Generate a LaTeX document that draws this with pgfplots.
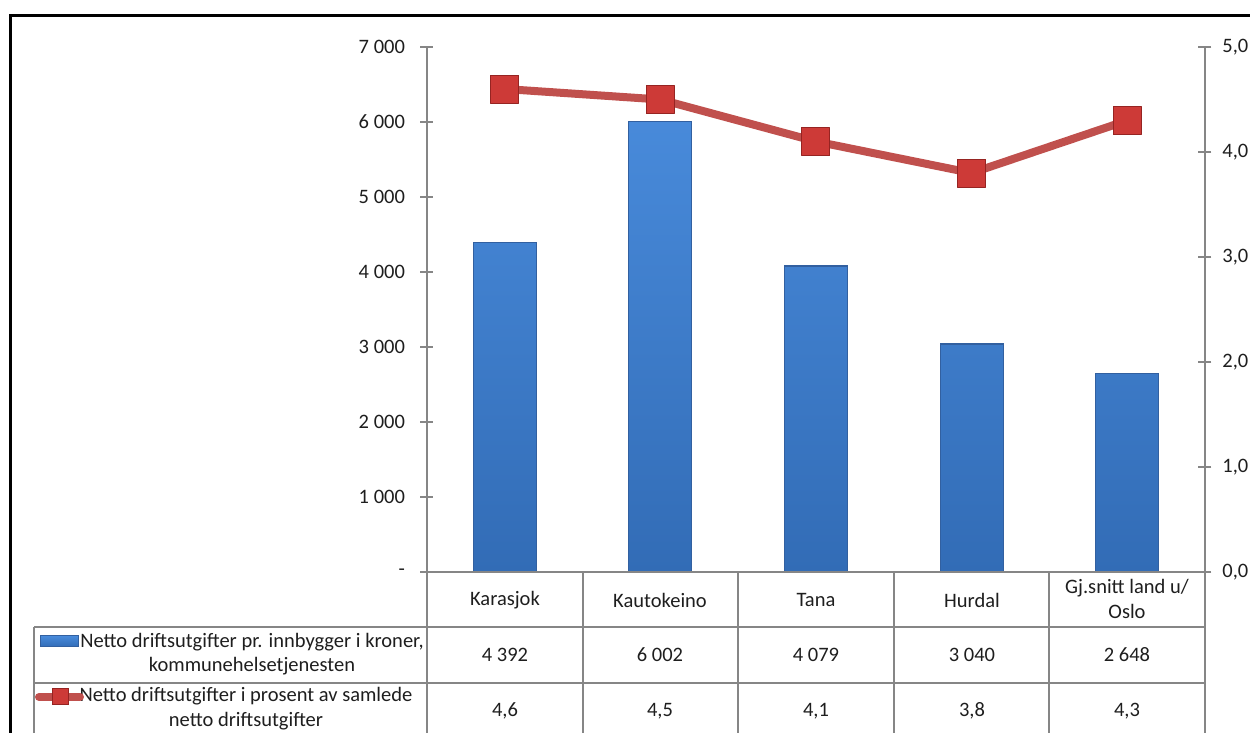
\documentclass[border=0pt]{standalone}
\usepackage{fontspec}
\setmainfont{Carlito}
\usepackage{pgfplots}
\pgfplotsset{compat=1.18}

\definecolor{bartop}{RGB}{72,138,218}
\definecolor{barbot}{RGB}{50,108,182}
\definecolor{baredge}{RGB}{50,96,160}
\definecolor{linered}{RGB}{192,80,77}
\definecolor{markred}{RGB}{205,58,55}
\definecolor{markedge}{RGB}{150,36,34}
\definecolor{gridgray}{RGB}{134,134,134}
\definecolor{txt}{RGB}{30,30,30}

\newcommand{\tf}{\fontsize{12.3}{14.8}\selectfont}

\begin{document}
\begin{tikzpicture}[x=0.6pt,y=0.6pt, font=\tf, text=txt]
\pgfplotsset{
  common/.style={
    at={(256.2pt,96.6pt)}, anchor=south west,
    scale only axis, width=466.8pt, height=315pt,
    xmin=-0.5, xmax=4.5,
    axis x line=none,
    axis line style={-, draw=gridgray, line width=1.1pt},
    tick align=center, major tick length=7.8pt,
    tick style={draw=gridgray, line width=1.1pt},
    every tick label/.append style={font=\tf, text=txt},
    clip=false,
  }
}
\begin{axis}[common,
  ymin=0, ymax=7000,
  axis y line*=left,
  ytick={0,1000,2000,3000,4000,5000,6000,7000},
  yticklabels={-, 1 000, 2 000, 3 000, 4 000, 5 000, 6 000, 7 000},
  yticklabel style={anchor=east, xshift=-5.8pt},
]
\addplot[ybar, bar width=37.8pt, top color=bartop, bottom color=barbot, draw=baredge, line width=0.7pt]
  coordinates {(0,4392) (1,6002) (2,4079) (3,3040) (4,2648)};
\end{axis}
\begin{axis}[common,
  ymin=0, ymax=5,
  axis y line*=right,
  ytick={0,1,2,3,4,5},
  yticklabels={{0,0},{1,0},{2,0},{3,0},{4,0},{5,0}},
  yticklabel style={anchor=west, xshift=3pt},
]
\addplot[linered, line width=4.8pt, line join=round,
  mark=square*, mark size=8.4pt,
  mark options={fill=markred, draw=markedge, line width=0.6pt}]
  coordinates {(0,4.6) (1,4.5) (2,4.1) (3,3.8) (4,4.3)};
\end{axis}

% data table
\begin{scope}[draw=gridgray, line width=1.1pt]
\draw (427,161) -- (1205,161);
\draw (34,106) -- (1205,106);
\draw (34,50) -- (1205,50);
\draw (34,106) -- (34,-5);
\foreach \xx in {427,583,738,894,1049,1205} { \draw (\xx,161) -- (\xx,-5); }
\end{scope}

\node at (505,133) {Karasjok};
\node at (660,133) {Kautokeino};
\node at (816,133) {Tana};
\node at (972,133) {Hurdal};
\node[align=center] at (1127,134) {Gj.snitt land u/\\Oslo};

\node at (505,78) {4 392};
\node at (660,78) {6 002};
\node at (816,78) {4 079};
\node at (972,78) {3 040};
\node at (1127,78) {2 648};

\node at (505,22) {4,6};
\node at (660,22) {4,5};
\node at (816,22) {4,1};
\node at (972,22) {3,8};
\node at (1127,22) {4,3};

\node[align=center] at (252,79) {Netto driftsutgifter pr. innbygger i kroner,\\kommunehelsetjenesten};
\node[align=center] at (246,24.5) {Netto driftsutgifter i prosent av samlede\\netto driftsutgifter};

% legend keys
\shade[top color=bartop, bottom color=barbot, draw=baredge, line width=0.6pt] (40,86) rectangle (78,97);
\draw[linered, line width=4.8pt, line cap=round] (39,36) -- (80,36);
\filldraw[fill=markred, draw=markedge, line width=0.6pt] (52,28) rectangle (68,44);

% frame
\begin{scope}
\clip (0,0) rectangle (1250,733);
\draw[black, line width=1.5pt] (10.5,-20) -- (10.5,717.5) -- (1270,717.5);
\end{scope}

\pgfresetboundingbox
\useasboundingbox (0,0) rectangle (1250,733);
\end{tikzpicture}
\end{document}
